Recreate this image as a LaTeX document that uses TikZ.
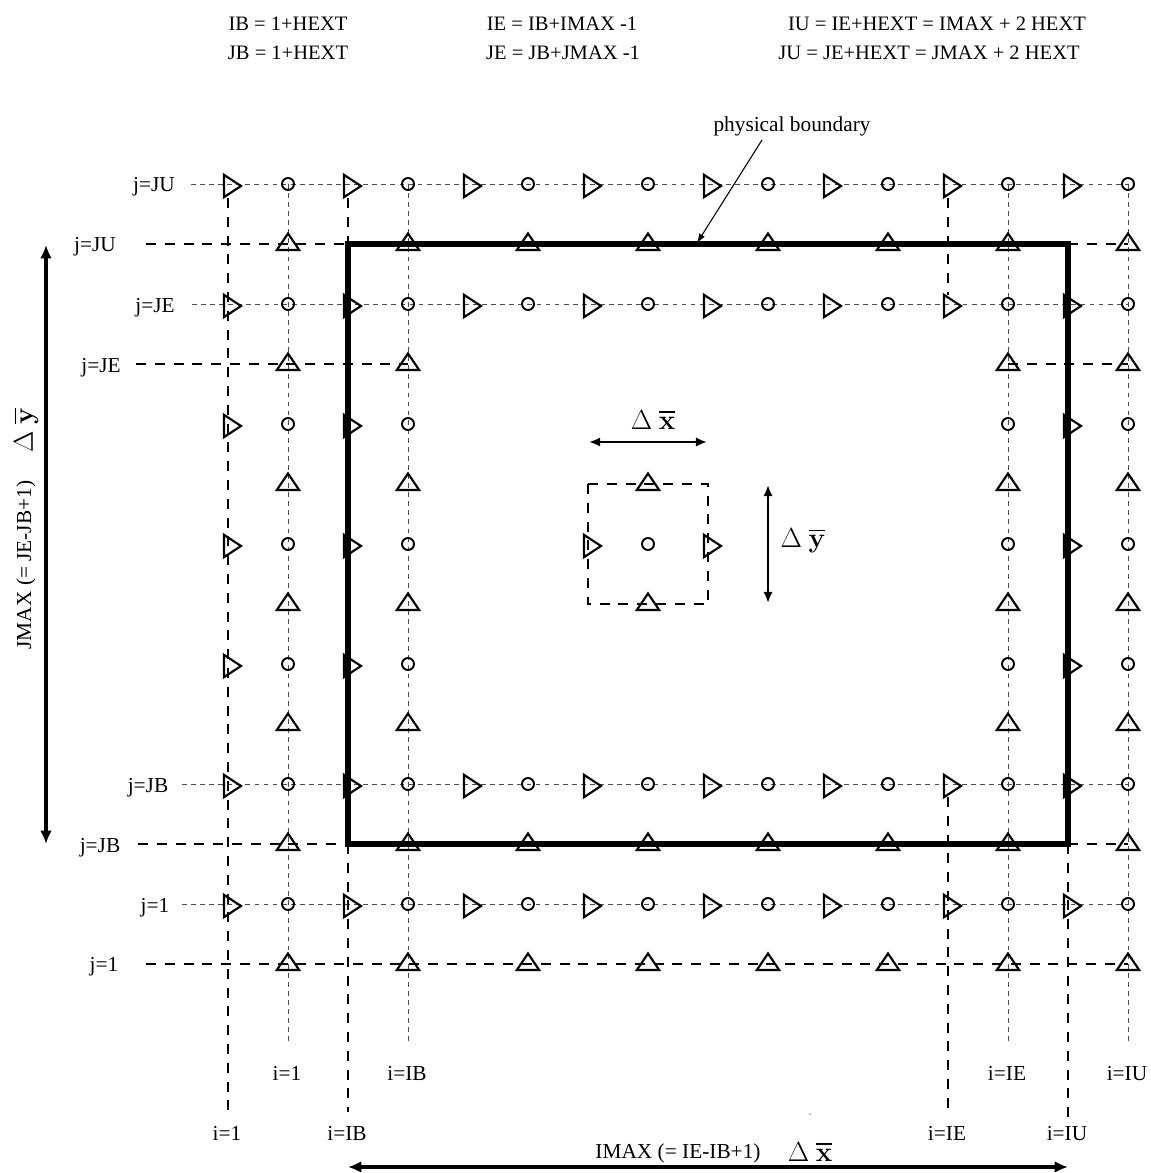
\documentclass[tikz,border=0pt]{standalone}
\usepackage[no-math]{fontspec}
\setmainfont{Liberation Serif}
\usetikzlibrary{shapes.geometric,arrows.meta}
\tikzset{
  x=0.75pt,y=-0.75pt,
  trishape/.style={isosceles triangle,isosceles triangle stretches,draw=black,line width=1.6pt,
     inner sep=0pt,outer sep=0pt,minimum width=16.8pt,anchor=apex},
  tright/.style={trishape,minimum height=12.8pt,shape border rotate=0},
  tup/.style={trishape,minimum height=12.4pt,shape border rotate=90},
  ring/.style={circle,draw=black,line width=1.45pt,inner sep=0pt,outer sep=0pt,minimum size=9pt},
  thindash/.style={line width=0.7pt,draw=black!70,dash pattern=on 3.6pt off 3.2pt},
  thickdash/.style={line width=1.5pt,draw=black,dash pattern=on 7.5pt off 6.6pt},
  boundary/.style={line width=4.2pt,draw=black,line join=miter},
  lab/.style={font=\fontsize{16pt}{18pt}\selectfont,inner sep=0pt,text=black},
  blab/.style={lab,anchor=base},
  formula/.style={font=\fontsize{15.4pt}{18pt}\selectfont,inner sep=0pt,text=black},
  biglab/.style={font=\fontsize{20pt}{24pt}\selectfont,inner sep=0pt,text=black},
  dimarrow/.style={line width=1.75pt,{Latex[length=8.3pt,width=7pt]}-{Latex[length=8.3pt,width=7pt]}},
  bigarrow/.style={line width=2.5pt,{Latex[length=10pt,width=8.8pt]}-{Latex[length=10pt,width=8.8pt]}},
}
\newcommand{\barred}[1]{\setbox0=\hbox{$\mathbf{#1}$}\rlap{\rule[\dimexpr\ht0+3.2pt\relax]{\wd0}{1.2pt}}\box0}
\newcommand{\dxbar}{$\Delta$\ \barred{x}}
\newcommand{\dybar}{$\Delta$\ \barred{y}}
\begin{document}
\begin{tikzpicture}
\useasboundingbox (0,0) rectangle (1150,1173);
% line end points
\foreach \n/\x/\y in {
 a1/191/184,a2/1128/184,b1/192/304,b2/1128/304,c1/182/784,c2/1128/784,d1/182/904,d2/1128/904,
 e1/288/184,e2/288/1045,f1/408/184,f2/408/1045,g1/1008/184,g2/1008/1045,h1/1128/184,h2/1128/1045,
 k1/228/198,k2/228/1110,l1/348/198,l2/348/244,l3/348/844,l4/348/1112,
 m1/948/198,m2/948/295,m3/948/797,m4/948/1113,n1/1068/844,n2/1068/1120,
 o1/146/244,o2/348/244,o3/1068/244,o4/1128/244,
 p1/136/364,p2/408/364,p3/1008/364,p4/1128/364,
 q1/138/844,q2/348/844,q3/1068/844,q4/1128/844,
 r1/146/964,r2/1128/964,
 s1/348/244,s2/1068/244,s3/1068/844,s4/348/844,
 w1/588/484,w2/708/484,w3/708/604,w4/588/604,
 t1/589/442,t2/707/442,u1/768/485,u2/768/603,
 v1/46/245,v2/46/844,x1/348/1167,x2/1068/1167,z1/762/140,z2/697/243}
 {\coordinate (\n) at (\x,\y);}
% thin dashed grid
\draw[thindash] (a1)--(a2);
\draw[thindash] (b1)--(b2);
\draw[thindash] (c1)--(c2);
\draw[thindash] (d1)--(d2);
\draw[thindash] (e1)--(e2);
\draw[thindash] (f1)--(f2);
\draw[thindash] (g1)--(g2);
\draw[thindash] (h1)--(h2);
% thick dashed grid
\draw[thickdash] (k1)--(k2);
\draw[thickdash] (l1)--(l2);
\draw[thickdash] (l3)--(l4);
\draw[thickdash] (m1)--(m2);
\draw[thickdash] (m3)--(m4);
\draw[thickdash] (n1)--(n2);
\draw[thickdash] (o1)--(o2);
\draw[thickdash] (o3)--(o4);
\draw[thickdash] (p1)--(p2);
\draw[thickdash] (p3)--(p4);
\draw[thickdash] (q1)--(q2);
\draw[thickdash] (q3)--(q4);
\draw[thickdash] (r1)--(r2);
\draw[thickdash] (w1)--(w2)--(w3)--(w4)--cycle;
% physical boundary
\draw[boundary] (s1)--(s2)--(s3)--(s4)--cycle;
% circles
\foreach \y in {184,304,784,904}
  \foreach \x in {288,408,...,1128}
    \node[ring] (c-\x-\y) at (\x,\y) {};
\foreach \y in {424,544,664}
  \foreach \x in {288,408,1008,1128}
    \node[ring] (c-\x-\y) at (\x,\y) {};
\node[ring] (c-center) at (648,544) {};
% right-pointing triangles
\foreach \y in {184,304,784,904}
  \foreach \x in {228,348,...,1068}
    \node[tright] (r-\x-\y) at ({\x+13},{\y+2}) {};
\foreach \y in {424,544,664}
  \foreach \x in {228,348,1068}
    \node[tright] (r-\x-\y) at ({\x+13},{\y+2}) {};
\node[tright] (r-cl) at (601,546) {};
\node[tright] (r-cr) at (721,546) {};
% up-pointing triangles
\foreach \y in {244,844,964}
  \foreach \x in {288,408,...,1128}
    \node[tup] (t-\x-\y) at (\x,{\y-10.5}) {};
\foreach \y in {364,484,604,724}
  \foreach \x in {288,408,1008,1128}
    \node[tup] (t-\x-\y) at (\x,{\y-10.5}) {};
\node[tup] (t-ct) at (648,473.5) {};
\node[tup] (t-cb) at (648,593.5) {};
% dimension arrows
\draw[dimarrow] (t1)--(t2);
\draw[dimarrow] (u1)--(u2);
\draw[bigarrow] (v1)--(v2);
\draw[bigarrow] (x1)--(x2);
% formulas
\node[formula] (f1a) at (288,24) {IB = 1+HEXT};
\node[formula] (f1b) at (288,53) {JB = 1+HEXT};
\node[formula] (f2a) at (562,24) {IE = IB+IMAX -1};
\node[formula] (f2b) at (563,53) {JE = JB+JMAX -1};
\node[formula] (f3a) at (937,24) {IU = IE+HEXT = IMAX + 2 HEXT};
\node[formula] (f3b) at (929,53) {JU = JE+HEXT = JMAX + 2 HEXT};
% physical boundary label
\node[lab] (pb) at (792,126) {physical boundary};
\draw[-{Latex[length=7pt,width=5pt]},line width=0.8pt] (z1)--(z2);
% row labels
\node[blab] (ly1) at (154,192) {j=JU};
\node[blab] (ly2) at (95,252) {j=JU};
\node[blab] (ly3) at (155,312) {j=JE};
\node[blab] (ly4) at (101,372) {j=JE};
\node[blab] (ly5) at (148,792) {j=JB};
\node[blab] (ly6) at (100,852) {j=JB};
\node[blab] (ly7) at (155,912) {j=1};
\node[blab] (ly8) at (104,971) {j=1};
% column labels
\node[blab] (lx1) at (287,1080.5) {i=1};
\node[blab] (lx2) at (407,1080.5) {i=IB};
\node[blab] (lx3) at (1007,1080.5) {i=IE};
\node[blab] (lx4) at (1127,1080.5) {i=IU};
\node[blab] (lx5) at (227,1140.5) {i=1};
\node[blab] (lx6) at (347,1140.5) {i=IB};
\node[blab] (lx7) at (947,1140.5) {i=IE};
\node[blab] (lx8) at (1067,1140.5) {i=IU};
% dimensions
\node[lab] (dimx) at (678,1153) {IMAX (= IE-IB+1)};
\node[lab,rotate=90] (dimy) at (26,565) {JMAX (= JE-JB+1)};
\node[biglab] (dx1) at (810,1152) {\dxbar};
\node[biglab,rotate=90] (dy1) at (26,430) {\dybar};
\node[biglab] (dx2) at (653,420) {\dxbar};
\node[biglab] (dy2) at (803,541) {\dybar};
\fill[black] (810,1114) circle (0.7);
\end{tikzpicture}
\end{document}
